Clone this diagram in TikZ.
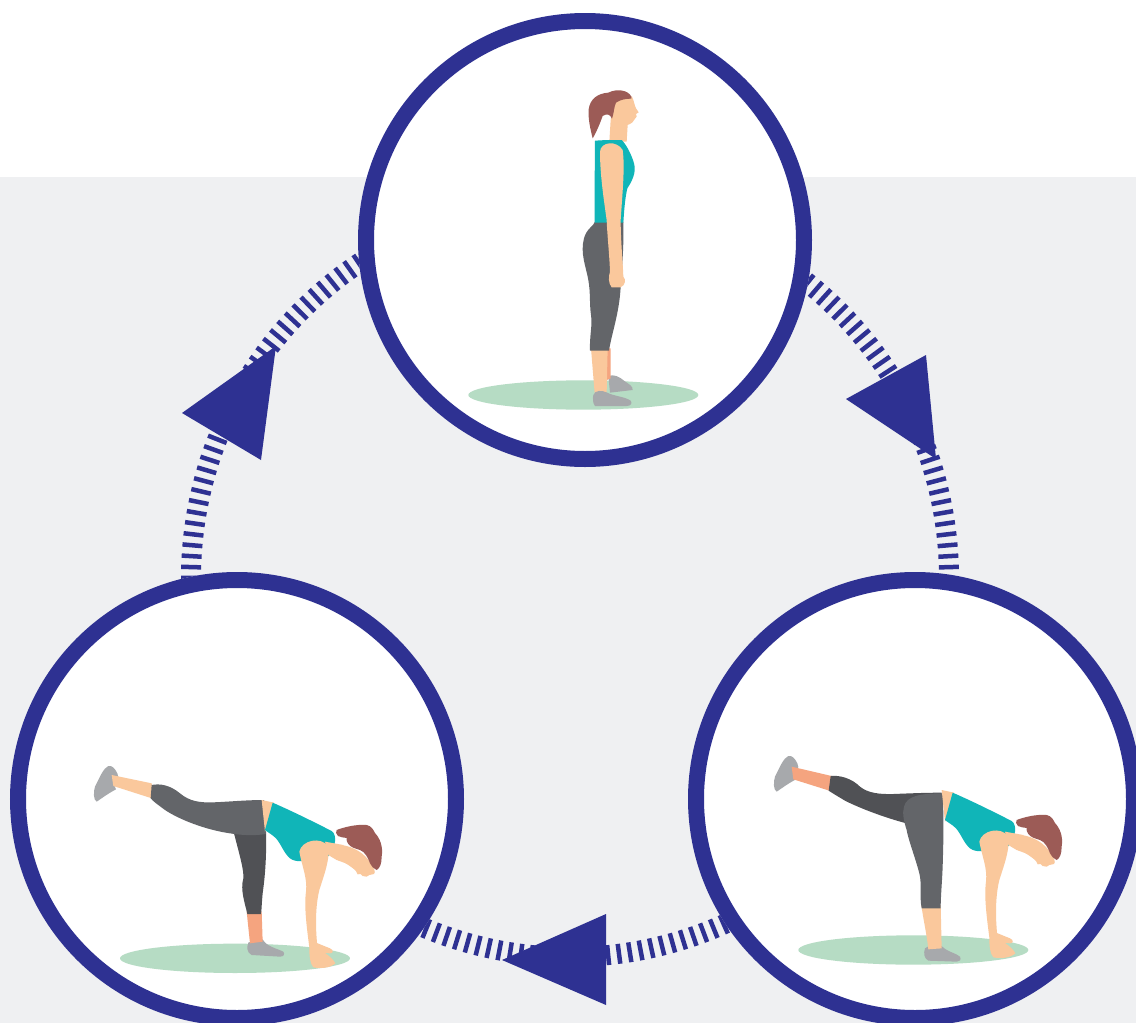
\documentclass[tikz,border=0pt]{standalone}
\definecolor{navy}{HTML}{2E3192}
\definecolor{bggray}{HTML}{EFF0F2}
\definecolor{skinc}{HTML}{FAC89C}
\definecolor{skindark}{HTML}{F5A47F}
\definecolor{hairc}{HTML}{9C5B56}
\definecolor{tealc}{HTML}{10B5B8}
\definecolor{tightsc}{HTML}{636569}
\definecolor{tightsdark}{HTML}{505155}
\definecolor{shoec}{HTML}{A7A9AC}
\definecolor{groundc}{HTML}{B6DCC4}

% upper body of the bent-over pose (local 3:1 coordinates)
\newcommand\bentupper{%
  \fill[skin] (545,150) -- (582,158) -- (568,225) -- (555,245) -- cycle;
  \fill[shirt] (578,158) .. controls (640,185) and (700,215) .. (755,243)
      .. controls (772,255) and (768,290) .. (745,318) -- (700,325)
      .. controls (675,335) and (648,338) .. (630,325)
      .. controls (612,310) and (602,280) .. (588,265)
      .. controls (575,252) and (560,245) .. (555,240) -- cycle;
  \fill[skin] (735,275) -- (790,285) -- (812,345) -- (770,330) -- (745,315) -- cycle;
  \fill[skin] (708,578) -- (750,595) .. controls (762,600) and (760,610) .. (750,610) -- (710,606) -- cycle;
  \fill[skin] (658,305) .. controls (665,270) and (725,258) .. (745,290)
      .. controls (750,330) and (732,375) .. (718,420)
      .. controls (706,470) and (706,530) .. (712,588)
      .. controls (730,608) and (758,622) .. (766,640)
      .. controls (750,655) and (720,656) .. (700,652)
      .. controls (690,640) and (688,620) .. (688,592)
      .. controls (680,530) and (672,470) .. (678,425)
      .. controls (683,385) and (665,345) .. (658,305) -- cycle;
  \fill[skin] (785,285) .. controls (820,290) and (855,310) .. (872,340)
      .. controls (882,355) and (888,365) .. (882,372) -- (868,375) -- (860,380)
      -- (848,378) -- (842,372) -- (833,373) -- (828,363)
      .. controls (815,350) and (790,335) .. (770,325) -- cycle;
  \fill[hair] (770,240) .. controls (790,232) and (830,222) .. (860,225)
      .. controls (875,228) and (880,240) .. (885,249)
      .. controls (900,265) and (910,290) .. (905,320)
      .. controls (905,340) and (900,355) .. (890,360)
      .. controls (880,355) and (875,350) .. (870,340)
      .. controls (865,325) and (855,305) .. (840,300)
      .. controls (825,295) and (812,292) .. (805,282)
      .. controls (798,272) and (800,265) .. (800,264)
      .. controls (790,262) and (780,262) .. (774,258)
      .. controls (768,252) and (766,245) .. (770,240) -- cycle;
}

% shoe of the raised foot (local 3:1 coordinates)
\newcommand\raisedshoe{%
  \fill[shoe] (45,110) .. controls (60,80) and (70,55) .. (85,48)
      .. controls (95,45) and (105,55) .. (112,70)
      .. controls (120,85) and (110,98) .. (100,100) -- (108,118)
      .. controls (85,130) and (65,145) .. (50,155)
      .. controls (40,150) and (40,125) .. (45,110) -- cycle;
}

\begin{document}
\begin{tikzpicture}[x=1pt,y=-1pt,
  ring/.style={circle, draw=navy, line width=16pt, fill=white,
               minimum size=438pt, inner sep=0pt},
  hatch/.style={draw=navy, line width=4.5pt},
  arrowfill/.style={fill=navy},
  skin/.style={fill=skinc},
  skin2/.style={fill=skindark},
  hair/.style={fill=hairc},
  shirt/.style={fill=tealc},
  tights/.style={fill=tightsc},
  tights2/.style={fill=tightsdark},
  shoe/.style={fill=shoec},
  ground/.style={fill=groundc}]

\useasboundingbox (0,0) rectangle (1136,1023);
\fill[white] (0,0) rectangle (1136,177);
\fill[bggray] (0,177) rectangle (1136,1023);

% the three stage circles
\node[ring] (stand) at (585,240) {};
\node[ring] (left) at (237,799) {};
\node[ring] (right) at (915,799) {};

% standing pose
\begin{scope}[shift={(460,80)},scale=1/3]
  \fill[ground] (370,945) ellipse [x radius=345, y radius=44];
  \fill[shoe] (445,888) .. controls (462,882) and (478,890) .. (492,902)
      .. controls (505,912) and (520,918) .. (518,930) -- (450,938) -- cycle;
  \fill[skin2] (428,805) -- (452,805) -- (452,895) -- (440,900) -- cycle;
  \fill[skin] (393,805) -- (443,805) -- (440,938) -- (404,940) -- cycle;
  \fill[shoe] (400,945) .. controls (405,930) and (425,930) .. (442,938)
      .. controls (460,948) and (495,950) .. (512,962)
      .. controls (518,970) and (512,978) .. (500,978) -- (405,978)
      .. controls (398,970) and (398,955) .. (400,945) -- cycle;
  \fill[tights] (405,425) -- (490,425)
      .. controls (492,500) and (486,560) .. (482,620)
      .. controls (478,700) and (455,760) .. (447,812) -- (390,812)
      .. controls (388,770) and (398,735) .. (393,705)
      .. controls (388,670) and (392,640) .. (385,600)
      .. controls (378,560) and (360,520) .. (372,475)
      .. controls (380,445) and (400,440) .. (405,425) -- cycle;
  \fill[skin] (460,70) .. controls (475,45) and (505,40) .. (516,50)
      .. controls (522,62) and (523,75) .. (528,85) -- (536,97) -- (528,102)
      -- (530,110) -- (525,116)
      .. controls (522,125) and (515,130) .. (503,135) -- (500,185)
      -- (448,185) -- (452,120) -- cycle;
  \fill[shirt] (405,182) -- (440,180) -- (485,180)
      .. controls (500,195) and (515,225) .. (522,250)
      .. controls (530,278) and (515,305) .. (502,325)
      .. controls (494,360) and (492,400) .. (490,428) -- (404,428)
      .. controls (404,340) and (404,260) .. (405,182) -- cycle;
  \fill[hair] (514,50) .. controls (505,30) and (470,25) .. (445,38)
      .. controls (412,40) and (390,58) .. (386,88)
      .. controls (384,120) and (392,150) .. (398,175)
      .. controls (410,155) and (420,130) .. (428,108)
      .. controls (440,100) and (450,102) .. (456,116)
      .. controls (462,100) and (462,80) .. (468,68)
      .. controls (482,58) and (500,56) .. (514,56) -- cycle;
  \fill[skin] (420,215) .. controls (422,185) and (470,180) .. (488,210)
      .. controls (495,260) and (488,330) .. (482,420)
      .. controls (482,480) and (488,540) .. (490,590)
      .. controls (498,598) and (497,615) .. (482,622) -- (455,622)
      .. controls (445,610) and (445,590) .. (450,575)
      .. controls (448,520) and (442,470) .. (440,420)
      .. controls (430,350) and (420,280) .. (420,215) -- cycle;
\end{scope}

% bent-over pose, lower left
\begin{scope}[shift={(80,750)},scale=1/3]
  \fill[ground] (465,625) ellipse [x radius=345, y radius=44];
  \raisedshoe
  \fill[skin] (95,75) -- (215,100) -- (222,147) -- (100,108) -- cycle;
  \fill[shoe] (505,578) .. controls (520,570) and (540,565) .. (548,568)
      .. controls (560,590) and (590,595) .. (610,605)
      .. controls (615,612) and (612,620) .. (600,620) -- (515,615)
      .. controls (500,608) and (500,590) .. (505,578) -- cycle;
  \fill[skin2] (500,485) -- (545,485) -- (548,575) -- (510,580) -- cycle;
  \fill[tights2] (462,250) -- (558,245)
      .. controls (560,320) and (555,380) .. (548,430)
      .. controls (545,460) and (545,480) .. (543,492) -- (502,492)
      .. controls (495,460) and (480,420) .. (490,385)
      .. controls (492,360) and (480,320) .. (462,250) -- cycle;
  \fill[tights] (215,105) .. controls (240,100) and (270,105) .. (300,130)
      .. controls (330,155) and (360,158) .. (400,157)
      .. controls (450,155) and (500,150) .. (552,150) -- (558,252)
      .. controls (520,258) and (480,255) .. (450,250)
      .. controls (380,240) and (300,210) .. (255,180)
      .. controls (235,165) and (220,155) .. (212,145) -- cycle;
  \bentupper
\end{scope}

% bent-over pose, lower right
\begin{scope}[shift={(760,740)},scale=1/3]
  \fill[ground] (460,630) ellipse [x radius=345, y radius=44];
  \raisedshoe
  \fill[skin2] (95,80) -- (215,108) -- (208,152) -- (100,118) -- cycle;
  \fill[tights2] (212,108) .. controls (240,105) and (275,115) .. (300,140)
      .. controls (325,160) and (360,163) .. (400,162)
      .. controls (450,160) and (500,158) .. (545,158) -- (545,250)
      .. controls (510,255) and (470,255) .. (440,250)
      .. controls (380,235) and (300,205) .. (255,182)
      .. controls (235,170) and (218,160) .. (206,152) -- cycle;
  \fill[shoe] (495,625) .. controls (510,612) and (535,612) .. (545,618)
      .. controls (560,635) and (590,640) .. (600,650)
      .. controls (605,660) and (598,665) .. (590,665) -- (505,662)
      .. controls (492,655) and (490,640) .. (495,625) -- cycle;
  \fill[skin] (484,495) -- (542,495) -- (545,625) -- (505,628)
      .. controls (500,580) and (490,540) .. (484,495) -- cycle;
  \fill[tights] (432,200) .. controls (440,168) and (480,160) .. (548,160)
      .. controls (552,250) and (550,310) .. (548,380)
      .. controls (546,430) and (542,470) .. (542,505) -- (485,505)
      .. controls (478,470) and (486,430) .. (478,400)
      .. controls (465,350) and (445,300) .. (440,270)
      .. controls (432,245) and (426,220) .. (432,200) -- cycle;
  \bentupper
\end{scope}

% hatched loop joining the three stages, kept outside the circles
\coordinate (c) at (570,578);
\begin{scope}[even odd rule]
  \clip (0,0) rectangle (1136,1023)
      (stand.center) circle[radius=227]
      (left.center) circle[radius=227]
      (right.center) circle[radius=227];
  \foreach \a in {0,...,217}
    \draw[hatch] ([shift={(\a*1.6514:369)}]c) -- ([shift={(\a*1.6514:389)}]c);
\end{scope}

% arrowheads along the loop
\fill[arrowfill] (276,346) -- (182,413) -- (261,460) -- cycle;
\fill[arrowfill] (936,459) -- (926,355) -- (846,399) -- cycle;
\fill[arrowfill] (502,960) -- (606,914) -- (606,1005) -- cycle;
\end{tikzpicture}
\end{document}
